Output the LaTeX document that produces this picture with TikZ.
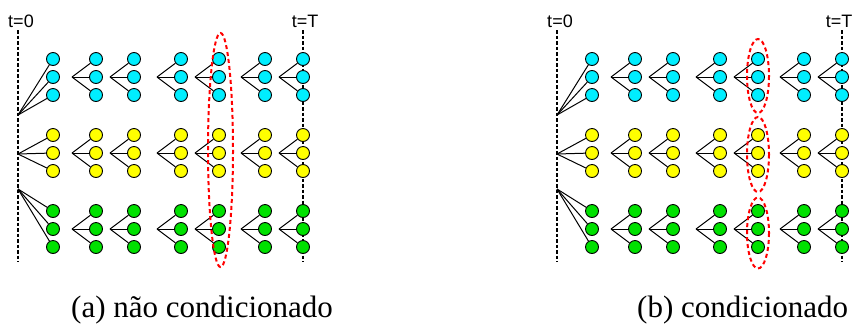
\documentclass[tikz,border=0pt]{standalone}
\usepackage{fontspec}
\setmainfont{Liberation Serif}
\newfontfamily\timefont{Liberation Sans}
\newfontfamily\captionfont{Liberation Serif}
\definecolor{statecyan}{RGB}{0,238,255}
\definecolor{stateyellow}{RGB}{255,255,0}
\definecolor{stategreen}{RGB}{0,225,0}
\definecolor{ovalred}{RGB}{255,0,0}
\tikzset{
  state/.style={circle,draw=black,line width=0.9pt,inner sep=0pt,minimum size=13pt},
  timeline/.style={draw=black,line width=2.2pt,dash pattern=on 3.5pt off 2pt},
  branch/.style={draw=black,line width=1pt},
  oval/.style={draw=ovalred,line width=2pt,dash pattern=on 4pt off 3pt},
  timelabel/.style={font=\timefont\fontsize{18}{18}\selectfont,inner sep=0pt},
  caption/.style={font=\captionfont\fontsize{31}{31}\selectfont,anchor=base west,inner sep=0pt}
}

\begin{document}
\begin{tikzpicture}[x=1pt,y=-1pt]
\useasboundingbox (0,0) rectangle (853,325);
\foreach \p/\ox/\tx in {a/0/305,b/539/300}{
  \coordinate (\p-start-top) at (\ox+18,30);
  \coordinate (\p-start-bot) at (\ox+18,262);
  \coordinate (\p-end-top) at (\ox+303,30);
  \coordinate (\p-end-bot) at (\ox+303,262);
  \draw[timeline] (\p-start-top) -- (\p-start-bot);
  \draw[timeline] (\p-end-top) -- (\p-end-bot);
  \node[timelabel] (\p-t0) at (\ox+21,21) {t=0};
  \node[timelabel] (\p-tT) at (\ox+\tx,21) {t=T};
  \foreach \g/\ym/\yf/\col in {1/77/115/statecyan,2/153/154/stateyellow,3/229/189/stategreen}{
    \coordinate (\p-fan-\g) at (\ox+18,\yf);
    \foreach \c/\cx in {1/53,2/96,3/134,4/181,5/219,6/265,7/303}{
      \foreach \r in {1,2,3}
        \node[state,fill=\col] (\p-\c-\g-\r) at (\ox+\cx,\ym+18*\r-36) {};
    }
    \foreach \r in {1,2,3}
      \draw[branch] (\p-fan-\g) -- (\p-1-\g-\r);
    \foreach \c/\cx in {2/96,3/134,4/181,5/219,6/265,7/303}{
      \coordinate (\p-\c-\g-apex) at (\ox+\cx-24,\ym);
      \foreach \r in {1,2,3}
        \draw[branch] (\p-\c-\g-apex) -- (\p-\c-\g-\r);
    }
  }
}
\draw[oval] (220.5,150) ellipse [x radius=12.5,y radius=117];
\draw[oval] (758,76) ellipse [x radius=11,y radius=37];
\draw[oval] (758,154.5) ellipse [x radius=11,y radius=37.5];
\draw[oval] (758,233) ellipse [x radius=11,y radius=35.5];
\node[caption] (cap-a) at (71,317) {(a) não condicionado};
\node[caption] (cap-b) at (637,317) {(b) condicionado};
\end{tikzpicture}
\end{document}
